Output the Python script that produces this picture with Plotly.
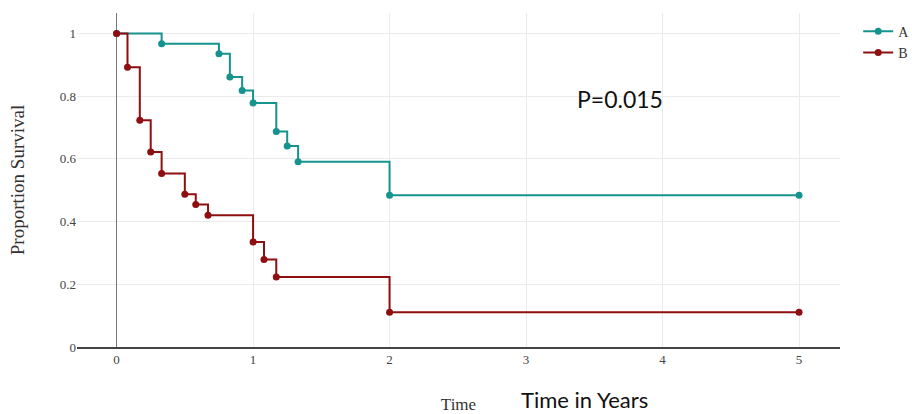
import plotly.graph_objects as go

# Group A (teal)
time_a = [0, 0.33, 0.75, 0.83, 0.92, 1.0, 1.17, 1.25, 1.33, 2.0, 5.0]
surv_a = [1.0, 0.967, 0.935, 0.861, 0.818, 0.778, 0.687, 0.641, 0.591, 0.484, 0.484]

# Group B (dark red)
time_b = [0, 0.08, 0.17, 0.25, 0.33, 0.5, 0.58, 0.67, 1.0, 1.08, 1.17, 2.0, 5.0]
surv_b = [1.0, 0.892, 0.723, 0.622, 0.553, 0.487, 0.454, 0.420, 0.335, 0.279, 0.223, 0.111, 0.111]

x_ticks = [0, 1, 2, 3, 4, 5]
y_ticks = [0, 0.2, 0.4, 0.6, 0.8, 1]

serif = "Liberation Serif, Times New Roman, serif"
sans = "Lato, Open Sans, sans-serif"

fig = go.Figure()
fig.add_trace(go.Scatter(x=time_a, y=surv_a, name="A", mode="lines+markers",
                         line=dict(color="#16928f", width=2, shape="hv"),
                         marker=dict(color="#16928f", size=7)))
fig.add_trace(go.Scatter(x=time_b, y=surv_b, name="B", mode="lines+markers",
                         line=dict(color="#8e0f0f", width=2, shape="hv"),
                         marker=dict(color="#8e0f0f", size=7)))

fig.update_layout(
    width=912, height=414,
    margin=dict(l=77, r=72, t=13, b=67),
    paper_bgcolor="white", plot_bgcolor="white",
    font=dict(family=serif, size=12, color="#444"),
    legend=dict(xref="container", yref="container", x=0.941, y=0.962,
                xanchor="left", yanchor="top",
                font=dict(family=serif, size=14, color="#333"),
                bgcolor="rgba(0,0,0,0)"),
    xaxis=dict(range=[-0.29, 5.3], tickvals=x_ticks, showgrid=True, gridcolor="#ebebeb",
               zeroline=True, zerolinecolor="#777", zerolinewidth=1,
               showline=True, linecolor="#444", linewidth=1.5, automargin=False,
               tickfont=dict(family=serif, size=13, color="#444"),
               title=dict(text="Time", font=dict(family=serif, size=17, color="#333"), standoff=36)),
    yaxis=dict(range=[0, 1.065], tickvals=y_ticks, showgrid=True, gridcolor="#ebebeb",
               zeroline=False, ticks="", automargin=False,
               tickfont=dict(family=serif, size=13, color="#444"),
               title=dict(text="Proportion Survival",
                          font=dict(family=serif, size=19, color="#333"), standoff=30)),
    annotations=[
        dict(text="P=0.015", x=3.69, y=0.791, xref="x", yref="y", showarrow=False,
             font=dict(family=sans, size=23, color="#111")),
        dict(text="Time in Years", x=0.665, y=-0.156, xref="paper", yref="paper", showarrow=False,
             yanchor="middle", font=dict(family=sans, size=22, color="#111")),
    ],
)

fig.write_html("out.html")
